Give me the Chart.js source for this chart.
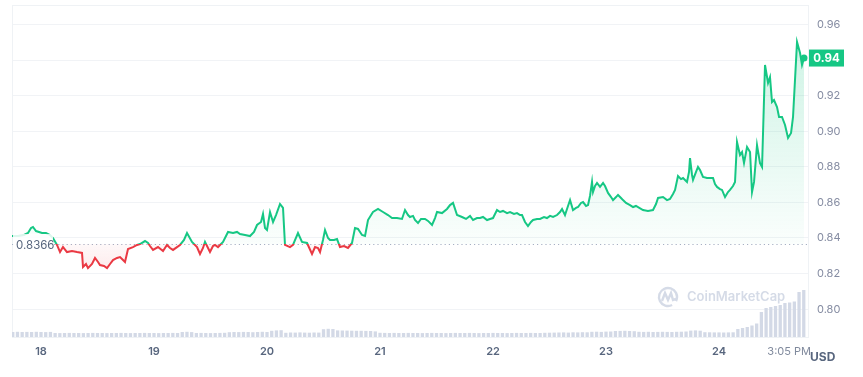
<!DOCTYPE html>
<html>
<head>
<meta charset="utf-8">
<script src="https://cdn.jsdelivr.net/npm/chart.js@4.4.0/dist/chart.umd.min.js"></script>
<style>
  html, body { margin: 0; padding: 0; background: #fff; }
  #wrap { width: 863px; height: 377px; position: relative; }
</style>
</head>
<body>
<div id="wrap"><canvas id="priceChart"></canvas></div>
<script>
// time is in hours since 00:00 on the 18th
const priceHours = [
  -6.16, -4.89, -3.61, -2.76, -2.12, -1.70, -1.06, -0.42, 0.21, 1.06, 1.91, 2.55,
  3.40, 4.04, 4.67, 5.52, 6.58, 7.65, 8.71, 8.92, 9.56, 9.98, 10.83, 11.47,
  12.11, 12.53, 13.38, 14.02, 14.66, 15.29, 16.14, 16.78, 17.42, 17.84, 18.48, 19.54,
  20.39, 21.03, 22.09, 22.73, 23.15, 23.79, 24.85, 25.91, 26.76, 27.40, 28.04, 28.89,
  29.52, 30.37, 31.01, 32.07, 33.13, 33.77, 34.41, 34.83, 35.47, 35.89, 36.53, 36.96,
  37.59, 38.02, 38.66, 39.72, 40.78, 41.63, 42.27, 43.33, 44.39, 45.24, 45.88, 46.73,
  47.15, 47.58, 48.00, 48.64, 49.28, 49.91, 50.76, 51.40, 51.82, 52.88, 53.52, 54.58,
  55.43, 56.50, 57.56, 58.20, 58.83, 59.26, 59.89, 60.32, 60.96, 61.38, 62.23, 62.87,
  63.50, 64.35, 65.20, 66.05, 66.69, 67.33, 68.18, 68.82, 69.45, 70.51, 71.58, 72.64,
  73.70, 74.55, 75.61, 76.67, 77.31, 77.95, 78.37, 79.01, 79.43, 80.07, 80.71, 81.56,
  82.20, 83.05, 83.68, 84.11, 85.17, 86.23, 86.87, 87.51, 88.36, 89.42, 90.27, 91.12,
  91.76, 92.60, 93.24, 93.88, 94.73, 95.36, 96.00, 96.85, 97.49, 98.13, 98.98, 99.61,
  100.46, 101.10, 101.74, 102.16, 102.80, 103.43, 104.07, 104.50, 105.35, 105.98, 106.83, 107.47,
  108.11, 108.75, 109.60, 110.23, 110.66, 111.29, 111.93, 112.36, 112.99, 113.63, 114.06, 114.69,
  115.12, 115.76, 116.18, 116.60, 117.03, 117.24, 117.67, 118.09, 118.73, 119.37, 119.79, 120.43,
  121.07, 121.49, 122.13, 122.55, 123.19, 123.61, 124.25, 125.10, 125.74, 126.37, 126.80, 127.86,
  128.92, 129.98, 130.62, 131.05, 132.11, 132.96, 133.59, 134.23, 134.66, 135.29, 135.93, 136.36,
  137.20, 137.63, 137.84, 138.27, 138.48, 139.12, 139.54, 139.97, 140.60, 141.45, 142.09, 142.73,
  143.15, 143.58, 144.21, 144.64, 145.28, 145.91, 146.34, 146.97, 147.40, 147.82, 148.46, 148.89,
  149.31, 149.95, 150.59, 151.01, 151.44, 152.07, 152.71, 153.14, 153.77, 154.41, 154.83, 155.26,
  155.68, 156.32, 156.75, 157.38, 158.02, 158.66, 159.30, 159.72, 160.57, 161.21, 161.63, 162.05
];
const prices = [
  0.8411, 0.8411, 0.8417, 0.8428, 0.8456, 0.8462, 0.8439, 0.8434, 0.8428, 0.8428, 0.8417, 0.8400,
  0.8361, 0.8321, 0.8349, 0.8321, 0.8327, 0.8321, 0.8316, 0.8237, 0.8254, 0.8231, 0.8254, 0.8288,
  0.8265, 0.8248, 0.8243, 0.8231, 0.8254, 0.8276, 0.8288, 0.8293, 0.8276, 0.8265, 0.8338, 0.8349,
  0.8361, 0.8366, 0.8383, 0.8372, 0.8355, 0.8333, 0.8349, 0.8327, 0.8361, 0.8344, 0.8333, 0.8349,
  0.8361, 0.8389, 0.8428, 0.8378, 0.8349, 0.8310, 0.8344, 0.8378, 0.8344, 0.8321, 0.8355, 0.8361,
  0.8349, 0.8361, 0.8378, 0.8434, 0.8428, 0.8434, 0.8422, 0.8417, 0.8411, 0.8434, 0.8473, 0.8490,
  0.8535, 0.8456, 0.8445, 0.8546, 0.8490, 0.8529, 0.8591, 0.8569, 0.8361, 0.8349, 0.8361, 0.8428,
  0.8378, 0.8372, 0.8310, 0.8349, 0.8344, 0.8321, 0.8389, 0.8445, 0.8400, 0.8389, 0.8389, 0.8394,
  0.8349, 0.8355, 0.8344, 0.8372, 0.8456, 0.8451, 0.8417, 0.8411, 0.8501, 0.8546, 0.8563, 0.8546,
  0.8529, 0.8512, 0.8512, 0.8507, 0.8557, 0.8529, 0.8518, 0.8524, 0.8501, 0.8484, 0.8507, 0.8507,
  0.8496, 0.8473, 0.8512, 0.8546, 0.8540, 0.8563, 0.8585, 0.8597, 0.8529, 0.8518, 0.8507, 0.8524,
  0.8501, 0.8512, 0.8512, 0.8518, 0.8501, 0.8507, 0.8512, 0.8557, 0.8546, 0.8552, 0.8540, 0.8546,
  0.8535, 0.8540, 0.8529, 0.8529, 0.8490, 0.8467, 0.8490, 0.8501, 0.8507, 0.8507, 0.8518, 0.8512,
  0.8524, 0.8518, 0.8529, 0.8546, 0.8563, 0.8529, 0.8580, 0.8613, 0.8557, 0.8569, 0.8574, 0.8597,
  0.8602, 0.8580, 0.8585, 0.8636, 0.8715, 0.8658, 0.8692, 0.8709, 0.8687, 0.8709, 0.8692, 0.8653,
  0.8630, 0.8613, 0.8630, 0.8642, 0.8625, 0.8613, 0.8597, 0.8585, 0.8574, 0.8580, 0.8574, 0.8557,
  0.8552, 0.8557, 0.8591, 0.8625, 0.8630, 0.8613, 0.8619, 0.8647, 0.8670, 0.8748, 0.8731, 0.8737,
  0.8715, 0.8771, 0.8849, 0.8754, 0.8726, 0.8771, 0.8799, 0.8782, 0.8743, 0.8737, 0.8737, 0.8737,
  0.8703, 0.8687, 0.8675, 0.8670, 0.8630, 0.8658, 0.8670, 0.8692, 0.8715, 0.8939, 0.8866, 0.8883,
  0.8821, 0.8911, 0.8883, 0.8658, 0.8715, 0.8922, 0.8821, 0.8799, 0.9372, 0.9271, 0.9304, 0.9164,
  0.9175, 0.9136, 0.9080, 0.9080, 0.9035, 0.8962, 0.8990, 0.9080, 0.9501, 0.9439, 0.9372, 0.9411
];

// hourly volume, first bar at volumeStartHour
const volumeStartHour = -6;
const volumes = [
  50, 52, 50, 51, 50, 52, 50, 49, 51,
  40, 39, 40, 41, 40, 40, 39, 40, 41, 40, 40, 39, 40, 40, 41, 40, 39, 40, 40, 41, 40, 40, 39, 40, 40, 41, 40,
  50, 52, 49,
  40, 41, 40, 39, 40, 41, 42,
  48, 50, 49, 51, 50, 48, 50, 52, 50,
  62, 66, 68,
  42, 45, 44, 46, 44, 43, 45, 44,
  78, 82, 80,
  66, 65, 64, 63, 62, 62, 61, 60, 56,
  42, 41, 40, 41, 40, 40, 41, 40, 40, 39, 40, 41, 40, 40, 39, 40, 41, 40, 40, 41,
  40, 39, 40, 40, 41, 40, 40, 39, 40, 41, 40, 40, 41, 40, 40, 42, 43, 44,
  45, 46, 44, 47, 46, 48, 47,
  52, 53, 51, 54, 55,
  60, 61, 62, 60, 58,
  52, 51, 52, 50, 51, 52, 51, 50, 52, 53, 55,
  64, 66, 63,
  48, 47, 46, 46, 45, 46, 47,
  80, 90, 100, 115, 135,
  250,
  290, 300, 310, 320,
  340, 345, 355,
  450, 470
];

const dayTicks = [0, 24, 48, 72, 96, 120, 144, 158.9];
const dayLabels = ['18', '19', '20', '21', '22', '23', '24', '3:05 PM'];
const priceTicks = [0.80, 0.82, 0.84, 0.86, 0.88, 0.90, 0.92, 0.94, 0.96];
const openPrice = 0.8366;
const openPriceText = '0.8366';
const lastPriceText = '0.94';

const GREEN = '#16c784';
const RED = '#ea3943';

// vertical gradient with a hard switch at the open price
function splitGradient(chart, stops) {
  const area = chart.chartArea;
  if (!area) return stops[0];
  const yPx = chart.scales.y.getPixelForValue(openPrice);
  let p = (yPx - area.top) / (area.bottom - area.top);
  p = Math.min(Math.max(p, 0), 1);
  const g = chart.ctx.createLinearGradient(0, area.top, 0, area.bottom);
  g.addColorStop(0, stops[0]);
  g.addColorStop(p, stops[1]);
  g.addColorStop(p, stops[2]);
  g.addColorStop(1, stops[3]);
  return g;
}

const chartDecor = {
  id: 'chartDecor',
  beforeDatasetsDraw(chart) {
    const { ctx, chartArea: a, scales } = chart;
    ctx.save();

    // frame
    ctx.strokeStyle = '#eff2f5';
    ctx.lineWidth = 1;
    ctx.strokeRect(a.left + 0.5, a.top + 0.5, a.right - a.left, a.bottom - a.top);

    // watermark
    const cx = a.right - 140, cy = a.bottom - 40;
    ctx.strokeStyle = '#d5dbe7';
    ctx.lineWidth = 2.4;
    ctx.beginPath();
    ctx.arc(cx, cy, 9, 0.35 * Math.PI, 2.15 * Math.PI);
    ctx.stroke();
    ctx.beginPath();
    ctx.moveTo(cx - 6, cy + 4);
    ctx.lineTo(cx - 3, cy - 4);
    ctx.lineTo(cx, cy + 3);
    ctx.lineTo(cx + 3, cy - 4);
    ctx.lineTo(cx + 5, cy + 3);
    ctx.lineTo(cx + 8, cy + 2);
    ctx.stroke();
    ctx.fillStyle = '#d5dbe7';
    ctx.font = '600 13px Inter';
    ctx.textAlign = 'left';
    ctx.textBaseline = 'middle';
    ctx.fillText('CoinMarketCap', cx + 19, cy);

    // dotted open price line
    const y0 = Math.round(scales.y.getPixelForValue(openPrice)) + 0.5;
    ctx.strokeStyle = '#a6b0c3';
    ctx.lineWidth = 1;
    ctx.setLineDash([1.2, 3]);
    ctx.beginPath();
    ctx.moveTo(a.left, y0);
    ctx.lineTo(a.right, y0);
    ctx.stroke();
    ctx.restore();
  },
  afterDatasetsDraw(chart) {
    const { ctx, chartArea: a, scales } = chart;
    ctx.save();

    // open price label
    const y0 = scales.y.getPixelForValue(openPrice);
    ctx.fillStyle = 'rgba(255,255,255,0.85)';
    ctx.fillRect(a.left + 1, y0 - 10, 40, 20);
    ctx.fillStyle = '#58667e';
    ctx.font = '11.5px Inter';
    ctx.textAlign = 'left';
    ctx.textBaseline = 'middle';
    ctx.fillText(openPriceText, a.left + 4, y0 + 1);

    // last price tag
    const yl = scales.y.getPixelForValue(prices[prices.length - 1]);
    ctx.fillStyle = GREEN;
    ctx.fillRect(a.right + 1, yl - 8.5, 35, 17);
    ctx.fillStyle = '#ffffff';
    ctx.font = 'bold 11.5px Inter';
    ctx.textAlign = 'center';
    ctx.fillText(lastPriceText, a.right + 18.5, yl + 0.5);
    ctx.restore();
  },
  afterDraw(chart) {
    const { ctx, chartArea: a } = chart;
    ctx.save();
    ctx.fillStyle = '#58667e';
    ctx.font = 'bold 12px Inter';
    ctx.textAlign = 'left';
    ctx.textBaseline = 'middle';
    ctx.fillText('USD', a.right + 2, a.bottom + 20);
    ctx.restore();
  }
};

const pricePoints = priceHours.map((h, i) => ({ x: h, y: prices[i] }));
const volumePoints = volumes.map((v, i) => ({ x: volumeStartHour + i, y: v }));

new Chart(document.getElementById('priceChart'), {
  type: 'line',
  data: {
    datasets: [
      {
        type: 'line',
        label: 'Price',
        data: pricePoints,
        yAxisID: 'y',
        order: 0,
        borderWidth: 2,
        tension: 0,
        borderColor: ctx => splitGradient(ctx.chart, [GREEN, GREEN, RED, RED]),
        backgroundColor: ctx => splitGradient(ctx.chart, [
          'rgba(22,199,132,0.24)', 'rgba(22,199,132,0.02)',
          'rgba(234,57,67,0.03)', 'rgba(234,57,67,0.3)'
        ]),
        fill: { target: { value: openPrice } },
        pointRadius: ctx => ctx.dataIndex === prices.length - 1 ? 3.5 : 0,
        pointBackgroundColor: GREEN,
        pointBorderWidth: 0
      },
      {
        type: 'bar',
        label: 'Volume',
        data: volumePoints,
        yAxisID: 'yVol',
        order: 1,
        backgroundColor: '#d3d9e6',
        barPercentage: 0.7,
        categoryPercentage: 1
      }
    ]
  },
  options: {
    responsive: true,
    maintainAspectRatio: false,
    animation: false,
    layout: { padding: { left: 12, top: 5, right: 0, bottom: 0 } },
    scales: {
      x: {
        type: 'linear',
        min: -6.16,
        max: 162.9,
        offset: false,
        grid: { display: false, drawTicks: false },
        border: { display: false },
        afterBuildTicks: scale => { scale.ticks = dayTicks.map(v => ({ value: v })); },
        afterFit: scale => {
          scale.height = 40;
          scale.paddingLeft = 0;
          scale.paddingRight = 0;
        },
        ticks: {
          autoSkip: false,
          maxRotation: 0,
          padding: 8,
          callback: (value, index) => dayLabels[index],
          color: ctx => ctx.index === dayLabels.length - 1 ? '#808a9d' : '#58667e',
          font: ctx => ({
            family: 'Inter',
            size: 11,
            weight: ctx.index === dayLabels.length - 1 ? '400' : '600'
          })
        }
      },
      y: {
        position: 'right',
        min: 0.78438,
        max: 0.9709,
        grid: { color: '#f1f3f6', drawTicks: false },
        border: { display: false },
        afterBuildTicks: scale => { scale.ticks = priceTicks.map(v => ({ value: v })); },
        afterFit: scale => {
          scale.width = 55;
          scale.paddingTop = 0;
          scale.paddingBottom = 0;
        },
        ticks: {
          padding: 9,
          color: '#858ca2',
          font: { family: 'Inter', size: 11 },
          callback: v => v.toFixed(2)
        }
      },
      yVol: {
        display: false,
        min: 0,
        max: 3320
      }
    },
    plugins: {
      legend: { display: false },
      tooltip: { enabled: false }
    }
  },
  plugins: [chartDecor]
});
</script>
</body>
</html>
